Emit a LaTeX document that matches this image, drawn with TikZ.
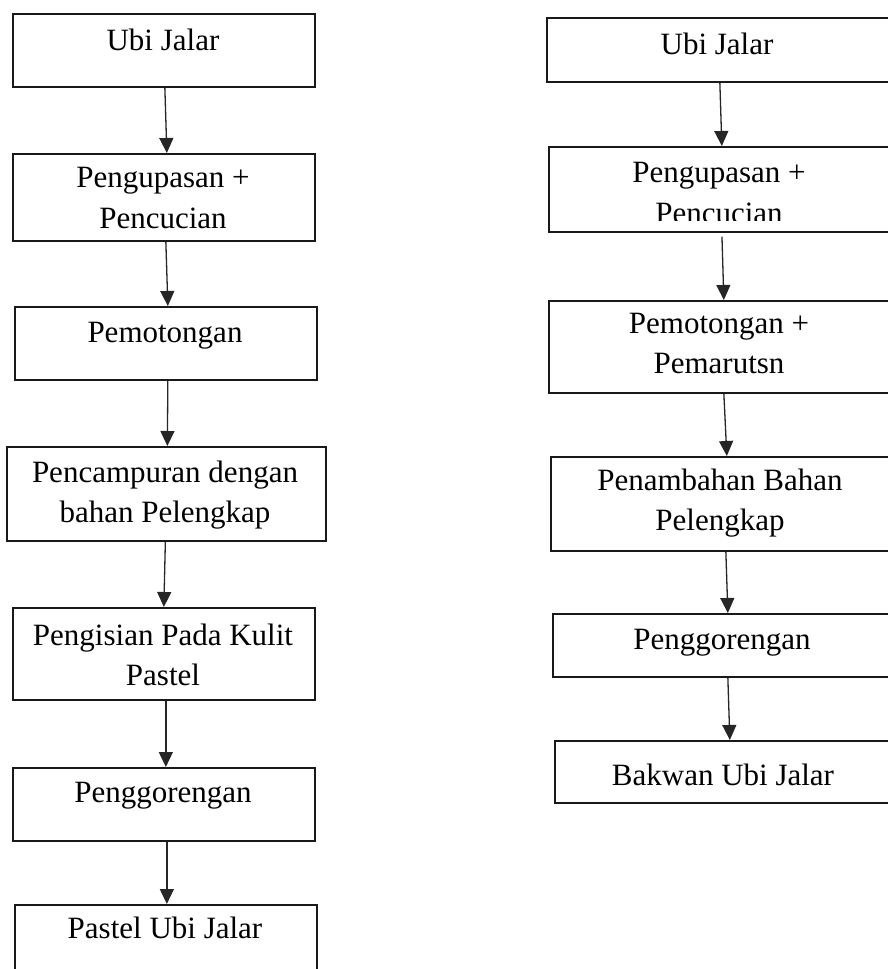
\documentclass[tikz,border=0pt]{standalone}
\usepackage{fontspec}
\setmainfont{Liberation Serif}
\usetikzlibrary{arrows.meta}
\begin{document}
\begin{tikzpicture}[x=1pt,y=-1pt,
  box/.style={draw=black!90, line width=1.7pt, inner sep=0pt, anchor=north west},
  lbl/.style={anchor=base, inner sep=0pt, font=\fontsize{31}{40}\selectfont},
  flow/.style={draw=black!85, line width=1.3pt, -{Triangle[width=14pt,length=15pt]}}]
\useasboundingbox (0,0) rectangle (888,969);
\clip (0,0) rectangle (888,969);
% left column boxes
\node[box, minimum width=302pt, minimum height=73pt] (L1) at (12,13) {};
\node[box, minimum width=302pt, minimum height=87pt] (L2) at (12,153) {};
\node[box, minimum width=302pt, minimum height=73pt] (L3) at (14,306) {};
\node[box, minimum width=319pt, minimum height=94pt] (L4) at (6,446) {};
\node[box, minimum width=302pt, minimum height=92pt] (L5) at (12,607) {};
\node[box, minimum width=302pt, minimum height=73pt] (L6) at (12,767) {};
\node[box, minimum width=302pt, minimum height=80pt] (L7) at (14,904) {};
% left column texts
\node[lbl] (l1) at (163,50) {Ubi Jalar};
\node[lbl] (l2a) at (163,187) {Pengupasan +};
\node[lbl] (l2b) at (163,228) {Pencucian};
\node[lbl] (l3) at (165,342) {Pemotongan};
\node[lbl] (l4a) at (165,482) {Pencampuran dengan};
\node[lbl] (l4b) at (165,522) {bahan Pelengkap};
\node[lbl] (l5a) at (163,645) {Pengisian Pada Kulit};
\node[lbl] (l5b) at (163,685) {Pastel};
\node[lbl] (l6) at (163,802) {Penggorengan};
\node[lbl] (l7) at (165,938) {Pastel Ubi Jalar};
% right column boxes
\node[box, minimum width=348pt, minimum height=64pt] (R1) at (546,17) {};
\node[box, minimum width=346pt, minimum height=85pt] (R2) at (548,146) {};
\node[box, minimum width=346pt, minimum height=92pt] (R3) at (548,300) {};
\node[box, minimum width=344pt, minimum height=94pt] (R4) at (550,456) {};
\node[box, minimum width=342pt, minimum height=63pt] (R5) at (552,613) {};
\node[box, minimum width=340pt, minimum height=62pt] (R6) at (554,740) {};
% right column texts
\node[lbl] (r1) at (717,54) {Ubi Jalar};
\node[lbl] (r2a) at (719,182) {Pengupasan +};
\begin{scope}
\clip (540,195) rectangle (900,220);
\node[lbl] (r2b) at (719,223) {Pencucian};
\end{scope}
\node[lbl] (r3a) at (719,333) {Pemotongan +};
\node[lbl] (r3b) at (719,373) {Pemarutsn};
\node[lbl] (r4a) at (720,490) {Penambahan Bahan};
\node[lbl] (r4b) at (720,530) {Pelengkap};
\node[lbl] (r5) at (722,649) {Penggorengan};
\node[lbl] (r6) at (723,785) {Bakwan Ubi Jalar};
% left arrows
\draw[flow] ([xshift=1pt]L1.south) -- ([xshift=3pt]L2.north);
\draw[flow] ([xshift=2pt]L2.south) -- ([xshift=2pt]L3.north);
\draw[flow] ([xshift=2pt]L3.south) -- ([xshift=1pt]L4.north);
\draw[flow] ([xshift=-1pt]L4.south) -- ([xshift=0pt]L5.north);
\draw[flow] ([xshift=2pt]L5.south) -- ([xshift=2pt]L6.north);
\draw[flow] ([xshift=3pt]L6.south) -- ([xshift=1pt]L7.north);
% right arrows
\draw[flow] ([xshift=-1pt]R1.south) -- ([xshift=0pt]R2.north);
\draw[flow, shorten <=4pt] ([xshift=0pt]R2.south) -- ([xshift=2pt]R3.north);
\draw[flow] ([xshift=2pt]R3.south) -- ([xshift=4pt]R4.north);
\draw[flow] ([xshift=3pt]R4.south) -- ([xshift=4pt]R5.north);
\draw[flow] ([xshift=4pt]R5.south) -- ([xshift=5pt]R6.north);
\end{tikzpicture}
\end{document}
